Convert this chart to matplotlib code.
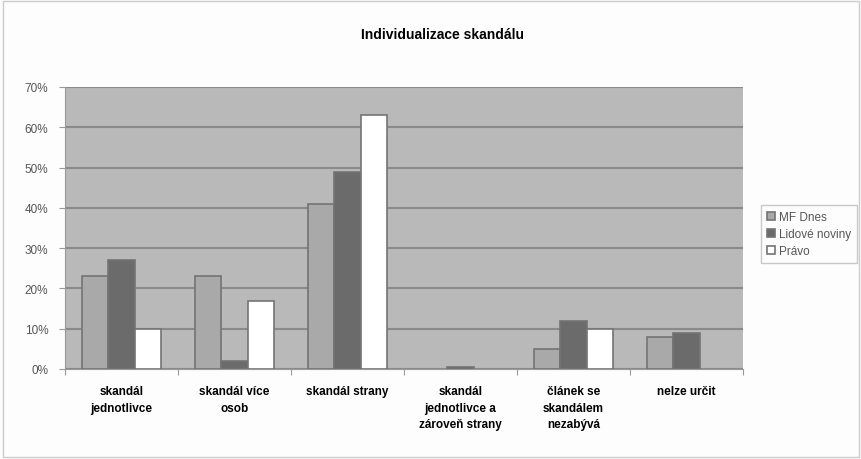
import matplotlib.pyplot as plt
import numpy as np

# data (percent)
categories = ["skandál\njednotlivce", "skandál více\nosob", "skandál strany",
              "skandál\njednotlivce a\nzároveň strany",
              "článek se\nskandálem\nnezabývá", "nelze určit"]
series_names = ["MF Dnes", "Lidové noviny", "Právo"]
mf_dnes = [23, 23, 41, 0, 5, 8]
lidove_noviny = [27, 2, 49, 0.5, 12, 9]
pravo = [10, 17, 63, 0, 10, 0]
yticks = [0, 10, 20, 30, 40, 50, 60, 70]

colors = ["#a9a9a9", "#6b6b6b", "#ffffff"]

plt.rcParams['font.family'] = ['Liberation Sans', 'DejaVu Sans']

fig = plt.figure(figsize=(8.62, 4.6), dpi=100)
fig.patch.set_facecolor("#fdfdfd")
ax = fig.add_axes([65 / 862, 1 - 370 / 460, (743 - 65) / 862, (370 - 88) / 460])
ax.set_facecolor("#b9b9b9")

x = np.arange(len(categories))
w = 1 / 4.25
for i, (vals, name) in enumerate(zip([mf_dnes, lidove_noviny, pravo], series_names)):
    vals = np.array(vals, dtype=float)
    ax.bar(x + (i - 1) * w, vals, w, color=colors[i],
           edgecolor=["#747474" if v > 0 else "none" for v in vals],
           linewidth=1.2, label=name, zorder=3)

ax.set_xlim(-0.5, len(categories) - 0.5)
ax.set_ylim(0, 70)
ax.set_yticks(yticks)
ax.set_yticklabels([f"{t}%" for t in yticks], color="#555555", fontsize=8.5)
ax.yaxis.grid(True, color="#8a8a8a", linewidth=1.5, zorder=1)
ax.set_axisbelow(True)

ax.set_xticks(np.arange(len(categories) + 1) - 0.5)
ax.set_xticklabels([])
ax.tick_params(axis="x", length=4, color="#999999", direction="out")
ax.tick_params(axis="y", length=4, color="#999999", pad=8)
for i, c in enumerate(categories):
    ax.text(i, -4.0, c, ha="center", va="top", fontsize=8.5, fontweight="bold",
            linespacing=1.5)

for s in ["top", "right"]:
    ax.spines[s].set_visible(False)
ax.spines["left"].set_color("#999999")
ax.spines["bottom"].set_color("#999999")

fig.text(443 / 862, 1 - 35 / 460, "Individualizace skandálu", ha="center",
         va="center", fontsize=10, fontweight="bold")

leg = fig.legend(loc="upper left", bbox_to_anchor=(755 / 862, 1 - 200 / 460),
                 fontsize=8.5, frameon=True, fancybox=False, edgecolor="#bbbbbb",
                 handlelength=0.7, handleheight=0.7, handletextpad=0.3,
                 labelspacing=0.45, borderpad=0.5)
leg.get_frame().set_facecolor("#fdfdfd")
for t in leg.get_texts():
    t.set_color("#555555")

# outer chart border
fig.add_artist(plt.Rectangle((0.004, 0.004), 0.992, 0.992, transform=fig.transFigure,
                             fill=False, edgecolor="#cccccc", linewidth=1))

fig.savefig("out.png", dpi=100, facecolor=fig.get_facecolor())
